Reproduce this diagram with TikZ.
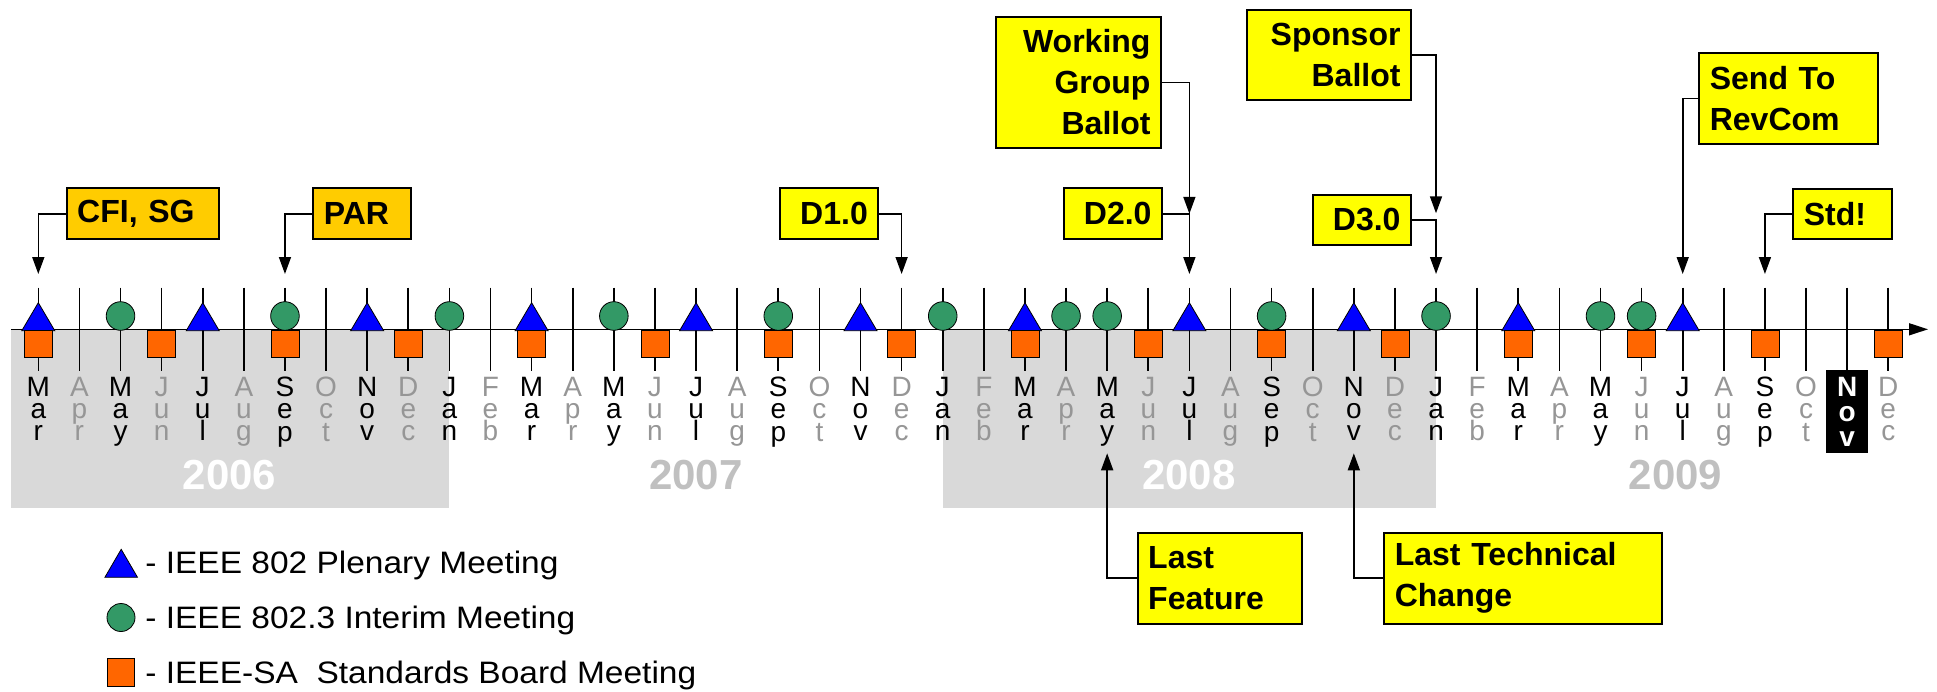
\documentclass[tikz,border=0pt]{standalone}
\usepackage{fontspec}
\setmainfont{Liberation Sans}
\newfontfamily\legendfont[FakeStretch=1.08]{Liberation Sans}
\usepackage{tikz}
\usetikzlibrary{arrows.meta,calc}
\definecolor{plenblue}{RGB}{0,0,255}
\definecolor{interimgreen}{RGB}{51,153,102}
\definecolor{boardorange}{RGB}{255,102,0}
\definecolor{calloutyellow}{RGB}{255,255,0}
\definecolor{calloutgold}{RGB}{255,204,0}
\definecolor{shadegray}{RGB}{217,217,217}
\definecolor{monthgray}{RGB}{150,150,150}
\definecolor{yeargray}{RGB}{192,192,192}

\begin{document}
\begin{tikzpicture}[x=0.5pt, y=-0.5pt,
	monthtick/.style={line width=0.8pt},
	axisline/.style={line width=0.7pt, -{Triangle[length=9.5pt,width=6pt]}},
	plenary/.style={fill=plenblue, draw=black, line width=0.4pt},
	interim/.style={fill=interimgreen, draw=black, line width=0.4pt},
	board/.style={fill=boardorange, draw=black, line width=0.4pt},
	callout/.style={draw, line width=1pt, anchor=north west, inner xsep=5.25pt, inner ysep=0pt, font=\bfseries\fontsize{16}{20.5}\selectfont},
	conn/.style={line width=0.8pt, -{Triangle[length=8.5pt,width=6pt]}},
	monthlbl/.style={anchor=north, inner sep=0pt, align=center, font=\fontsize{14}{11.1}\selectfont},
	yearlbl/.style={font=\bfseries\fontsize{21}{25}\selectfont},
	legendtext/.style={anchor=base west, inner sep=0pt, font=\legendfont\fontsize{15.5}{18}\selectfont}]
	\useasboundingbox (0,0) rectangle (1937,691);
	\fill[shadegray] (11,329.3) rectangle (449.4,507.7);
	\fill[shadegray] (942.7,329.3) rectangle (1436,507.7);
	\node[yearlbl, text=white] (y2006) at (229.5,474.7) {2006};
	\node[yearlbl, text=yeargray] (y2007) at (695.8,474.7) {2007};
	\node[yearlbl, text=white] (y2008) at (1188.8,474.7) {2008};
	\node[yearlbl, text=yeargray] (y2009) at (1675.5,474.7) {2009};
	\coordinate (axisstart) at (11,329.3);
	\coordinate (axisend) at (1928,329.3);
	\draw[axisline] (axisstart) -- (axisend);
	\foreach \yr in {0,...,3}
		\foreach \lbl [count=\k from 0] in {M\\a\\r,A\\p\\r,M\\a\\y,J\\u\\n,J\\u\\l,A\\u\\g,S\\e\\p,O\\c\\t,N\\o\\v,D\\e\\c,J\\a\\n,F\\e\\b}{
			\pgfmathtruncatemacro\i{12*\yr+\k}
			\ifnum\i<46
				\pgfmathsetmacro\mx{38.3+41.11*\i}
				\coordinate (m\i) at (\mx,329.3);
				\coordinate (tip\i) at (\mx,274);
				\coordinate (up\i) at (\mx,453.3);
				\draw[monthtick] (\mx,287.7) -- (\mx,370.7);
				\ifodd\i\relax\def\mcol{monthgray}\else\def\mcol{black}\fi
				\ifnum\i=44\relax\else
					\node[monthlbl, text=\mcol] (lbl\i) at (\mx,376.7) {\lbl};
				\fi
			\fi
		}
	\foreach \i in {0,4,...,40}
		\filldraw[plenary] ($(m\i)+(-16.5,1.4)$) -- ++(33,0) -- ++(-16.5,-28) -- cycle;
	\foreach \i in {2,6,10,14,18,22,25,26,30,34,38,39}
		\filldraw[interim] ($(m\i)+(0,-13.3)$) circle[radius=14.3];
	\foreach \i in {0,3,...,45}
		\filldraw[board] ($(m\i)+(-14,0.7)$) rectangle ++(28,27.3);
	\node[fill=black, text=white, inner sep=0pt, minimum width=21pt, minimum height=41.35pt, anchor=north, align=center, font=\bfseries\fontsize{14}{12.5}\selectfont] (lbl44) at (1847.1,370) {N\\o\\v};

	\node[callout, fill=calloutgold, text width=65.8pt, minimum height=25.5pt, align=left] (cfi) at (65.7,187.3) {CFI, SG};
	\node[callout, fill=calloutgold, text width=38.5pt, minimum height=25.5pt, align=left] (par) at (312.3,187.3) {PAR};
	\node[callout, fill=calloutyellow, text width=38.65pt, minimum height=25.5pt, align=right] (d1) at (779,187.3) {D1.0};
	\node[callout, fill=calloutyellow, text width=38.35pt, minimum height=25.5pt, align=right] (d2) at (1063.3,187.3) {D2.0};
	\node[callout, fill=calloutyellow, text width=38.35pt, minimum height=25pt, align=right] (d3) at (1312.3,194) {D3.0};
	\node[callout, fill=calloutyellow, text width=72pt, minimum height=65.8pt, align=right] (wgb) at (995,15.7) {Working\\Group\\Ballot};
	\node[callout, fill=calloutyellow, text width=71.65pt, minimum height=45.15pt, align=right] (spb) at (1245.7,9) {Sponsor\\Ballot};
	\node[callout, fill=calloutyellow, text width=78.7pt, minimum height=45.8pt, align=left] (rev) at (1698.3,51.7) {Send To\\RevCom};
	\node[callout, fill=calloutyellow, text width=38.7pt, minimum height=25.3pt, align=left] (std) at (1792.3,187.7) {Std!};
	\node[callout, fill=calloutyellow, text width=71.5pt, minimum height=45.5pt, align=left] (lf) at (1136.7,531.7) {Last\\Feature};
	\node[callout, fill=calloutyellow, text width=128.5pt, minimum height=45.5pt, align=left] (ltc) at (1383.3,531.7) {Last Technical\\Change};
	\coordinate (spbtip) at (1436,213.3);

	\draw[conn] (cfi.west) -| (tip0);
	\draw[conn] (par.west) -| (tip6);
	\draw[conn] (d1.east) -| (tip21);
	\draw[conn] (d2.east) -| (tip28);
	\draw[conn] (wgb.east) -| (d2.east -| tip28);
	\draw[conn] (d3.east) -| (tip34);
	\draw[conn] (spb.east) -| (spbtip);
	\draw[conn] (rev.west) -| (tip40);
	\draw[conn] (std.west) -| (tip42);
	\draw[conn] (lf.west) -| (up26);
	\draw[conn] (ltc.west) -| (up32);

	\filldraw[plenary] (104.9,577.3) -- (121.2,549.3) -- (137.5,577.3) -- cycle;
	\filldraw[interim] (121,617.5) circle[radius=14];
	\filldraw[board] (107.1,658.3) rectangle (134.8,686.7);
	\node[legendtext] (leg1) at (145,573.3) {- IEEE 802 Plenary Meeting};
	\node[legendtext] (leg2) at (145,628.3) {- IEEE 802.3 Interim Meeting};
	\node[legendtext] (leg3) at (145,683.3) {- IEEE-SA\ \ Standards Board Meeting};
\end{tikzpicture}
\end{document}
